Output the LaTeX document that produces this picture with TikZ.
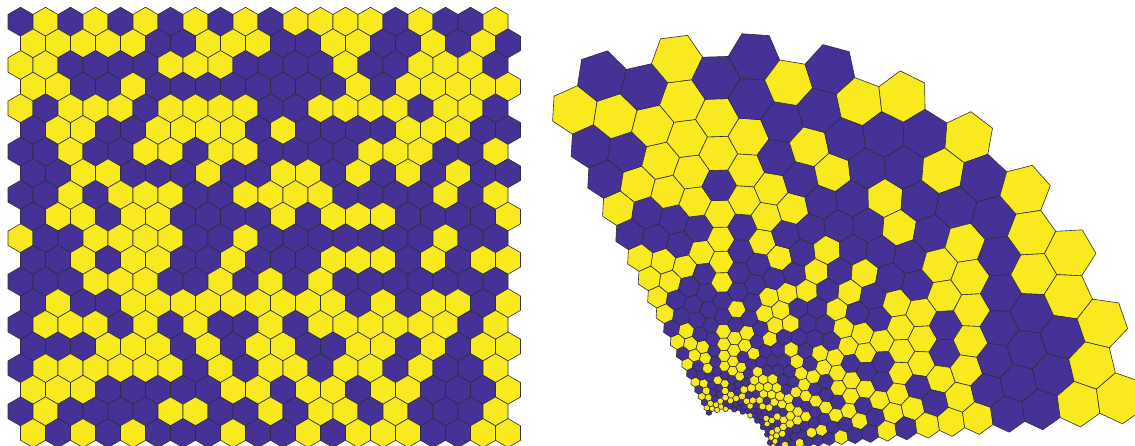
\documentclass[tikz,border=0pt]{standalone}
\definecolor{hexY}{RGB}{248,234,30}
\definecolor{hexP}{RGB}{70,50,150}
\definecolor{hexline}{RGB}{45,45,60}
\tikzset{hexcell/.style={draw=hexline,line width=0.6pt,line join=round}}
\newcommand\hexmapv[3]{%
  \pgfmathsetmacro\hmR{386*exp(0.0045*(#1-502))}%
  \pgfmathsetmacro\hmT{114-(#2-21.7)*0.257831}%
  \pgfmathsetmacro\hmX{727+\hmR*cos(\hmT)}%
  \pgfmathsetmacro\hmY{453-\hmR*sin(\hmT)}%
  \coordinate (#3) at (\hmX,\hmY);%
}
\begin{document}
\begin{tikzpicture}[x=1pt,y=-1pt]
\useasboundingbox (0,0) rectangle (1135,446);
\clip (0,0) rectangle (1135,446);
\foreach \r/\lst in {
0/{P,Y,P,Y,P,Y,P,Y,P,Y,P,Y,Y,Y,Y,P,Y,P,P,Y},
1/{Y,Y,Y,Y,Y,P,P,Y,Y,Y,P,P,Y,Y,P,P,Y,P,Y,P},
2/{Y,Y,P,P,P,P,Y,Y,Y,P,P,P,P,Y,P,P,Y,Y,Y,P},
3/{Y,Y,P,P,Y,P,P,P,P,P,P,P,P,Y,P,Y,Y,Y,Y,Y},
4/{Y,P,Y,Y,Y,P,Y,Y,Y,Y,P,P,Y,Y,Y,Y,P,Y,Y,P},
5/{P,Y,Y,P,P,Y,Y,Y,Y,P,Y,P,P,P,P,Y,Y,Y,P,P},
6/{P,P,Y,P,P,Y,Y,P,Y,Y,P,P,P,P,Y,Y,Y,P,P,Y},
7/{P,P,Y,Y,P,P,P,Y,P,P,Y,Y,P,Y,P,Y,P,Y,P,P},
8/{P,P,Y,P,Y,Y,Y,P,P,Y,Y,Y,Y,P,P,P,P,Y,P,Y},
9/{P,Y,Y,P,Y,Y,P,P,P,P,Y,P,Y,Y,Y,P,P,P,P,Y},
10/{Y,P,P,Y,Y,Y,Y,P,P,Y,P,P,P,P,P,P,P,Y,P,P},
11/{P,P,Y,P,Y,Y,P,P,Y,P,P,P,Y,Y,Y,P,Y,P,Y,Y},
12/{P,P,P,Y,Y,Y,P,P,Y,P,Y,P,Y,P,P,P,P,P,P,P},
13/{P,Y,P,P,Y,Y,Y,Y,Y,Y,Y,Y,Y,P,Y,P,Y,Y,P,Y},
14/{P,Y,Y,Y,P,Y,P,Y,P,P,Y,P,Y,Y,Y,Y,Y,Y,P,Y},
15/{P,P,P,Y,Y,Y,P,Y,P,Y,Y,P,P,Y,Y,P,Y,P,Y,Y},
16/{P,Y,Y,Y,Y,Y,Y,P,Y,P,Y,Y,P,Y,Y,P,Y,P,P,Y},
17/{Y,Y,Y,P,P,P,P,P,Y,Y,P,Y,Y,P,Y,Y,P,P,P,Y},
18/{P,Y,P,P,P,P,Y,Y,P,P,Y,P,Y,Y,P,Y,P,P,P,Y},
19/{Y,P,Y,P,Y,P,P,P,Y,P,P,Y,P,Y,Y,Y,P,P,Y,Y}}{
  \pgfmathsetmacro\cy{21.7+21.65*\r}
  \pgfmathsetmacro\xo{mod(\r,2)==1 ? 33 : 20.5}
  \foreach \c [count=\j from 0] in \lst {
    \pgfmathsetmacro\cx{\xo+25*\j}
    \path[hexcell,fill=hex\c] (\cx,\cy-14.434) -- ++(12.5,7.217) -- ++(0,14.434) -- ++(-12.5,7.217) -- ++(-12.5,-7.217) -- ++(0,-14.434) -- cycle;
    \hexmapv{\cx}{\cy-14.434}{va}
    \hexmapv{\cx+12.5}{\cy-7.217}{vb}
    \hexmapv{\cx+12.5}{\cy+7.217}{vc}
    \hexmapv{\cx}{\cy+14.434}{vd}
    \hexmapv{\cx-12.5}{\cy+7.217}{ve}
    \hexmapv{\cx-12.5}{\cy-7.217}{vf}
    \path[hexcell,fill=hex\c] (va) -- (vb) -- (vc) -- (vd) -- (ve) -- (vf) -- cycle;
  }
}
\end{tikzpicture}
\end{document}
